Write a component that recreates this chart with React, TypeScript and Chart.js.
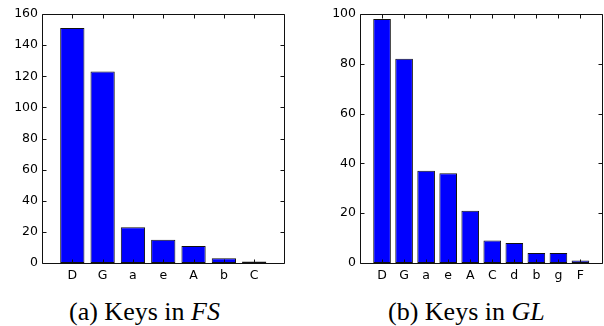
import React, { useEffect, useRef } from 'react';
import { Chart, registerables } from 'chart.js';

Chart.register(...registerables);

// Panel (a): keys in FS
const fsKeys = ['D', 'G', 'a', 'e', 'A', 'b', 'C'];
const fsCounts = [151, 123, 23, 15, 11, 3, 1];
const fsYTicks = [0, 20, 40, 60, 80, 100, 120, 140, 160];

// Panel (b): keys in GL
const glKeys = ['D', 'G', 'a', 'e', 'A', 'C', 'd', 'b', 'g', 'F'];
const glCounts = [98, 82, 37, 36, 21, 9, 8, 4, 4, 1];
const glYTicks = [0, 20, 40, 60, 80, 100];

const TICK_FONT = { family: 'DejaVu Sans', size: 12.5 };

const framePlugin = {
  id: 'frame',
  afterDraw(chart: any) {
    const { ctx, chartArea: a, scales } = chart;
    const L = Math.floor(a.left) + 0.5;
    const R = Math.floor(a.right) + 0.5;
    const T = Math.floor(a.top) + 0.5;
    const B = Math.floor(a.bottom) + 0.5;
    const len = 4;
    ctx.save();
    ctx.strokeStyle = '#111';
    ctx.lineWidth = 1;
    ctx.beginPath();
    scales.x.ticks.forEach((t: any) => {
      const x = Math.round(scales.x.getPixelForValue(t.value)) + 0.5;
      ctx.moveTo(x, B);
      ctx.lineTo(x, B - len);
      ctx.moveTo(x, T);
      ctx.lineTo(x, T + len);
    });
    scales.y.ticks.forEach((t: any) => {
      const y = Math.round(scales.y.getPixelForValue(t.value)) + 0.5;
      ctx.moveTo(L, y);
      ctx.lineTo(L + len, y);
      ctx.moveTo(R, y);
      ctx.lineTo(R - len, y);
    });
    ctx.rect(L, T, R - L, B - T);
    ctx.stroke();
    ctx.restore();
  },
};

type PanelProps = {
  keys: string[];
  counts: number[];
  yTicks: number[];
  yAxisWidth: number;
  padRight: number;
  width: number;
  left: number;
};

function Panel({ keys, counts, yTicks, yAxisWidth, padRight, width, left }: PanelProps) {
  const ref = useRef<HTMLCanvasElement | null>(null);
  useEffect(() => {
    if (!ref.current) return;
    const chart = new Chart(ref.current, {
      type: 'bar',
      data: {
        datasets: [
          {
            data: counts.map((v, i) => ({ x: i, y: v })),
            backgroundColor: '#0000ff',
            borderColor: '#111',
            borderWidth: 1,
            borderSkipped: false,
            categoryPercentage: 1,
            barPercentage: 0.8,
          },
        ],
      },
      options: {
        animation: false,
        responsive: false,
        maintainAspectRatio: false,
        layout: { padding: { left: 0, right: padRight, top: 14, bottom: 0 } },
        plugins: { legend: { display: false }, tooltip: { enabled: false } },
        scales: {
          x: {
            type: 'linear',
            offset: false,
            min: -1,
            max: keys.length,
            grid: { display: false, drawTicks: false, offset: false },
            border: { display: false },
            afterBuildTicks: (s: any) => {
              s.ticks = keys.map((_, i) => ({ value: i }));
            },
            afterFit: (s: any) => {
              s.height = 27;
            },
            ticks: {
              autoSkip: false,
              maxRotation: 0,
              padding: 5,
              color: '#000',
              font: TICK_FONT,
              callback: (v: any) => keys[v as number] ?? '',
            },
          },
          y: {
            min: yTicks[0],
            max: yTicks[yTicks.length - 1],
            grid: { display: false, drawTicks: false },
            border: { display: false },
            afterBuildTicks: (s: any) => {
              s.ticks = yTicks.map((v) => ({ value: v }));
            },
            afterFit: (s: any) => {
              s.width = yAxisWidth;
            },
            ticks: {
              padding: 4,
              color: '#000',
              font: TICK_FONT,
            },
          },
        },
      },
      plugins: [framePlugin],
    });
    return () => chart.destroy();
  }, []);
  return (
    <canvas
      ref={ref}
      width={width}
      height={290}
      style={{ position: 'absolute', left, top: 0, width, height: 290 }}
    />
  );
}

const captionStyle: React.CSSProperties = {
  position: 'absolute',
  top: 299,
  fontFamily: '"Liberation Serif", serif',
  fontSize: 26,
  lineHeight: '26px',
  whiteSpace: 'nowrap',
  color: '#000',
};

export default function App() {
  return (
    <div
      style={{
        position: 'absolute',
        left: 0,
        top: 0,
        width: 604,
        height: 326,
        background: '#fff',
        overflow: 'hidden',
      }}
    >
      <Panel keys={fsKeys} counts={fsCounts} yTicks={fsYTicks} yAxisWidth={42} padRight={15.5} width={300} left={0} />
      <Panel keys={glKeys} counts={glCounts} yTicks={glYTicks} yAxisWidth={60} padRight={1.5} width={304} left={300} />
      <div style={{ ...captionStyle, left: 69 }}>
        (a) Keys in <i>FS</i>
      </div>
      <div style={{ ...captionStyle, left: 388 }}>
        (b) Keys in <i>GL</i>
      </div>
    </div>
  );
}
